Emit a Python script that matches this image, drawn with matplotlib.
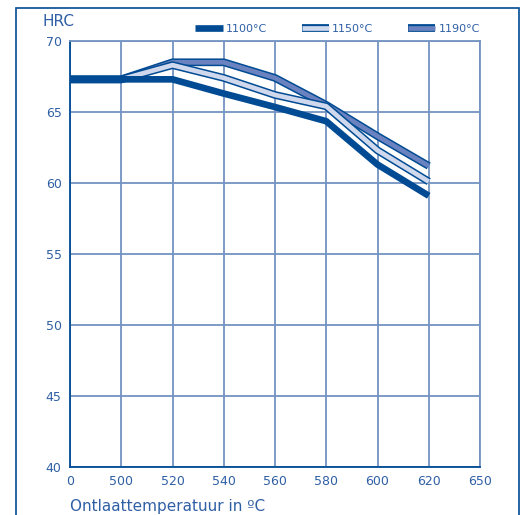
import matplotlib.pyplot as plt
import matplotlib.patheffects as pe
from matplotlib.patches import Rectangle

# Tempering temperature (tick labels) and hardness per hardening temperature
x_labels = ['0', '500', '520', '540', '560', '580', '600', '620', '650']
hrc_1100 = [67.3, 67.3, 67.3, 66.3, 65.35, 64.35, 61.3, 59.1]
hrc_1150 = [67.3, 67.3, 68.3, 67.4, 66.2, 65.4, 62.3, 60.1]
hrc_1190 = [67.3, 67.3, 68.5, 68.5, 67.4, 65.5, 63.3, 61.2]
y_ticks = [40, 45, 50, 55, 60, 65, 70]

dark = '#004b93'
grid_col = '#7393c3'
text_col = '#2f5fa5'

fig = plt.figure(figsize=(5.23, 5.15), dpi=100)
ax = fig.add_axes([70/523, 1 - 467/515, 410/523, 426/515])

# outer frame
fig.patches.append(Rectangle((16/523, -0.05), 503/523, 1 - 8/515 + 0.05,
                             transform=fig.transFigure, fill=False,
                             edgecolor=dark, linewidth=1.2))

xs = list(range(len(hrc_1100)))
ax.plot(xs, hrc_1190, color='#6a82bf', lw=3.4, solid_capstyle='butt',
        path_effects=[pe.Stroke(linewidth=5.6, foreground=dark), pe.Normal()],
        label='1190°C', zorder=3)
ax.plot(xs, hrc_1150, color='#cfd8ec', lw=3.4, solid_capstyle='butt',
        path_effects=[pe.Stroke(linewidth=5.6, foreground=dark), pe.Normal()],
        label='1150°C', zorder=4)
ax.plot(xs, hrc_1100, color=dark, lw=4.8, solid_capstyle='butt',
        label='1100°C', zorder=5)

ax.set_xlim(0, len(x_labels) - 1)
ax.set_ylim(40, 70)
ax.set_xticks(range(len(x_labels)))
ax.set_xticklabels(x_labels)
ax.set_yticks(y_ticks)
ax.tick_params(length=0, colors=text_col, labelsize=9, pad=6)
ax.grid(True, color=grid_col, lw=1.3)
ax.set_axisbelow(True)
for side in ['left', 'bottom']:
    ax.spines[side].set_color(dark)
    ax.spines[side].set_linewidth(1.3)
for side in ['right', 'top']:
    ax.spines[side].set_color(grid_col)
    ax.spines[side].set_linewidth(1.3)

fig.text(43/523, 1 - 22/515, 'HRC', color=text_col, fontsize=11, va='center')
ax.set_xlabel('Ontlaattemperatuur in ºC', color=text_col, fontsize=11,
              loc='left', labelpad=8)

handles, labels = ax.get_legend_handles_labels()
order = [2, 1, 0]
leg = ax.legend([handles[i] for i in order], [labels[i] for i in order],
                ncol=3, loc='lower right', bbox_to_anchor=(1.005, 1.012),
                frameon=False, fontsize=8, handlelength=2.45,
                handletextpad=0.3, columnspacing=3.1, borderaxespad=0.2,
                borderpad=0)
for t in leg.get_texts():
    t.set_color(text_col)

fig.savefig('out.png', dpi=100)
